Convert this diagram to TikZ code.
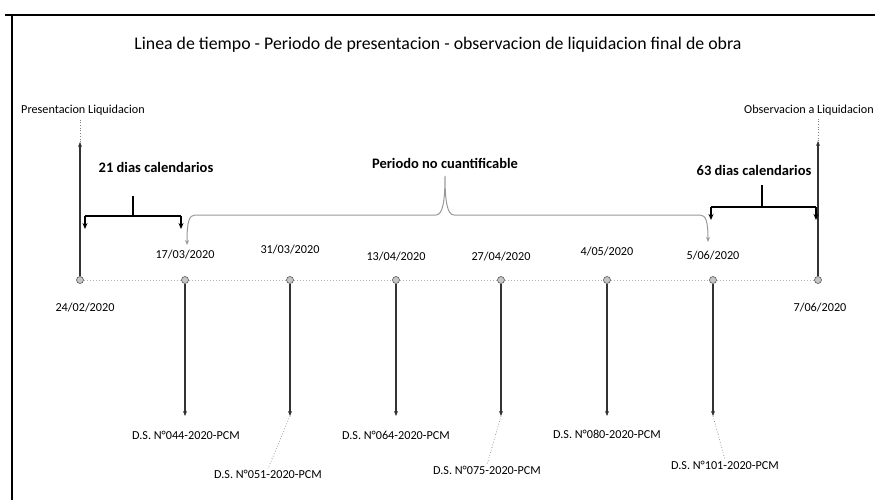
\documentclass[tikz,border=0pt]{standalone}
\usepackage{fontspec}
\setmainfont{Carlito}
\usetikzlibrary{arrows.meta}
\begin{document}
\begin{tikzpicture}[x=1pt,y=-1pt,
  lbl/.style={inner sep=1pt,font=\fontsize{12.2}{14}\selectfont},
  bold/.style={inner sep=1pt,font=\fontsize{14.5}{17}\selectfont\bfseries},
  dot/.style={circle,draw=gray!70!black,fill=gray!45,minimum size=7pt,inner sep=0pt,line width=0.6pt},
  vline/.style={draw=black!80,line width=1.4pt,-{Stealth[length=5pt,width=4pt]}},
  leader/.style={draw=gray,dotted,line width=0.7pt},
  brace/.style={draw=black,line width=1.7pt},
  bracetip/.style={draw=black,line width=1.7pt,-{Stealth[length=6pt,width=5pt]}},
  graybrace/.style={draw=gray!80,line width=1pt}]
\useasboundingbox (0,0) rectangle (875,500);
% frame
\coordinate (fa) at (5,15);
\coordinate (fb) at (875,15);
\coordinate (fc) at (12,15);
\coordinate (fd) at (12,500);
\draw[line width=1.2pt] (fa) -- (fb);
\draw[line width=1.6pt] (fc) -- (fd);
% title
\node[font=\fontsize{17.8}{21}\selectfont,inner sep=0pt] (title) at (438,45) {Linea de tiempo - Periodo de presentacion - observacion de liquidacion final de obra};
% end labels
\node[lbl,anchor=west] (pres) at (20,110) {Presentacion Liquidacion};
\node[lbl,anchor=east] (obs) at (875,110) {Observacion a Liquidacion};
% timeline dots
\node[dot] (d0) at (80,280) {};
\node[dot] (d1) at (185,280) {};
\node[dot] (d2) at (290,280) {};
\node[dot] (d3) at (396,280) {};
\node[dot] (d4) at (501,280) {};
\node[dot] (d5) at (607,280) {};
\node[dot] (d6) at (713,280) {};
\node[dot] (d7) at (818,280) {};
\draw[gray!60,dotted,line width=1pt] (d0) -- (d1) -- (d2) -- (d3) -- (d4) -- (d5) -- (d6) -- (d7);
% dates
\node[lbl] (t1) at (185,255) {17/03/2020};
\node[lbl] (t2) at (290,250) {31/03/2020};
\node[lbl] (t3) at (396,257) {13/04/2020};
\node[lbl] (t4) at (501,257) {27/04/2020};
\node[lbl] (t5) at (607,252) {4/05/2020};
\node[lbl] (t6) at (713,256) {5/06/2020};
\node[lbl] (t0) at (85,308) {24/02/2020};
\node[lbl] (t7) at (820,308) {7/06/2020};
% end verticals
\coordinate (v0) at (80,142);
\coordinate (v7) at (818,141);
\draw[vline] (d0) -- (v0);
\draw[vline] (d7) -- (v7);
\draw[leader] (v0) -- (80,120);
\draw[leader] (v7) -- (818,119);
% down arrows
\coordinate (e1) at (185,416);
\coordinate (e2) at (290,416);
\coordinate (e3) at (396,416);
\coordinate (e4) at (501,416);
\coordinate (e5) at (607,416);
\coordinate (e6) at (713,416);
\foreach \i in {1,...,6} {\draw[vline] (d\i) -- (e\i);}
\node[lbl] (s1) at (186,435) {D.S. N°044-2020-PCM};
\node[lbl] (s2) at (268,474) {D.S. N°051-2020-PCM};
\node[lbl] (s3) at (396,435) {D.S. N°064-2020-PCM};
\node[lbl] (s4) at (487,470) {D.S. N°075-2020-PCM};
\node[lbl] (s5) at (607,434) {D.S. N°080-2020-PCM};
\node[lbl] (s6) at (725,465) {D.S. N°101-2020-PCM};
\draw[leader] (e2) -- (s2.north);
\draw[leader] (e4) -- (s4.north);
\draw[leader] (e6) -- (s6.north);
% 21 dias bracket
\node[bold] (b21) at (156,167) {21 dias calendarios};
\coordinate (a1) at (85,216);
\coordinate (a2) at (181,216);
\coordinate (a3) at (133,196);
\coordinate (a4) at (133,216);
\coordinate (a1t) at (85,229);
\coordinate (a2t) at (181,229);
\draw[brace] (a1) -- (a2);
\draw[brace] (a3) -- (a4);
\draw[bracetip] (a1) -- (a1t);
\draw[bracetip] (a2) -- (a2t);
% 63 dias bracket
\node[bold] (b63) at (754,170) {63 dias calendarios};
\coordinate (c1) at (711,207);
\coordinate (c2) at (816,207);
\coordinate (c3) at (762,185);
\coordinate (c4) at (762,207);
\coordinate (c1t) at (711,220);
\coordinate (c2t) at (816,220);
\draw[brace] (c1) -- (c2);
\draw[brace] (c3) -- (c4);
\draw[bracetip] (c1) -- (c1t);
\draw[bracetip] (c2) -- (c2t);
% periodo no cuantificable brace
\node[bold] (bpn) at (445,163) {Periodo no cuantificable};
\coordinate (g0) at (187,245);
\coordinate (g1) at (195,215);
\coordinate (g2) at (436,215);
\coordinate (gp) at (445,176);
\coordinate (g3) at (454,215);
\coordinate (g4) at (700,215);
\coordinate (g5) at (708,242);
\draw[graybrace,-{Stealth[length=5pt,width=4pt]}] (g2) -- (g1) .. controls (189,215) and (187,222) .. (g0);
\draw[graybrace] (g2) .. controls (443,215) and (445,200) .. (gp) .. controls (445,200) and (447,215) .. (g3);
\draw[graybrace,-{Stealth[length=5pt,width=4pt]}] (g3) -- (g4) .. controls (706,215) and (708,222) .. (g5);
\end{tikzpicture}
\end{document}
